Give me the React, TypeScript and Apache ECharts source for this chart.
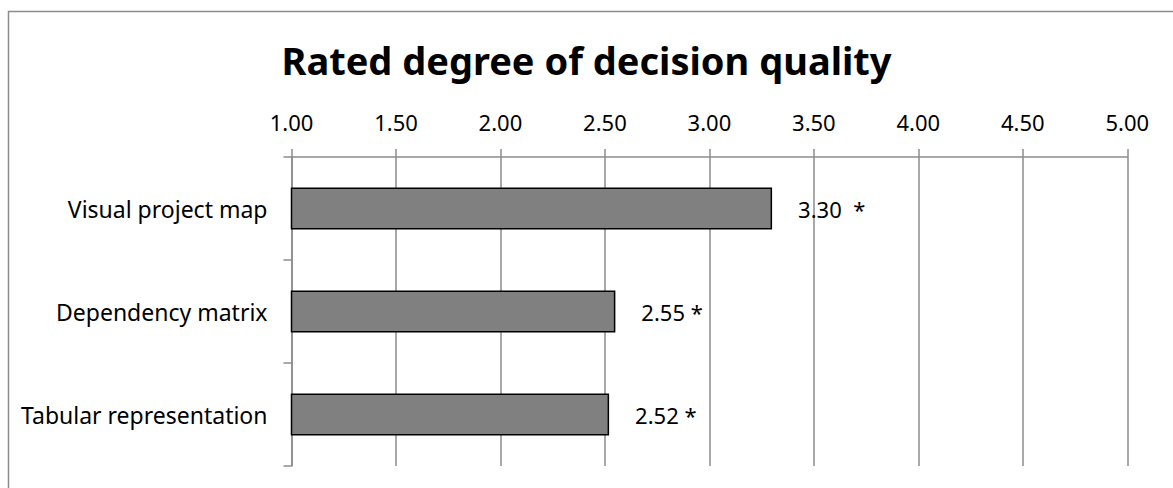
import React, { useEffect, useRef } from "react";
import * as echarts from "echarts";

const categories = ["Visual project map", "Dependency matrix", "Tabular representation"];
const values = [3.3, 2.55, 2.52];
const valueLabels = ["3.30  *", "2.55 *", "2.52 *"];
const tickMin = 1;
const tickMax = 5;
const tickStep = 0.5;
const titleText = "Rated degree of decision quality";

export default function App() {
  const ref = useRef<HTMLDivElement>(null);
  useEffect(() => {
    if (!ref.current) return;
    const chart = echarts.init(ref.current, null, { renderer: "svg" });
    const font = "'Noto Sans', sans-serif";
    chart.setOption({
      animation: false,
      backgroundColor: "#ffffff",
      textStyle: { fontFamily: font },
      title: {
        text: titleText,
        left: "center",
        top: 36,
        textStyle: { fontFamily: font, fontSize: 38, fontWeight: "bold", color: "#000" },
      },
      graphic: [
        {
          type: "rect",
          shape: { x: 8.5, y: 11.5, width: 1200, height: 500 },
          style: { fill: "none", stroke: "#8c8c8c", lineWidth: 1.5 },
          silent: true,
        },
      ],
      grid: { left: 291.5, right: 45.7, top: 157, bottom: 22 },
      xAxis: {
        type: "value",
        position: "top",
        min: tickMin,
        max: tickMax,
        interval: tickStep,
        axisLine: { show: true, lineStyle: { color: "#8c8c8c", width: 1.5 } },
        axisTick: { show: true, inside: false, length: 8, lineStyle: { color: "#8c8c8c", width: 1.5 } },
        axisLabel: {
          color: "#000",
          fontSize: 22,
          margin: 24,
          fontFamily: font,
          formatter: (v: number) => v.toFixed(2),
        },
        splitLine: { show: true, lineStyle: { color: "#8c8c8c", width: 1.5 } },
      },
      yAxis: {
        type: "category",
        inverse: true,
        data: categories,
        axisLine: { show: true, lineStyle: { color: "#8c8c8c", width: 1.5 } },
        axisTick: { show: true, alignWithLabel: false, length: 8, lineStyle: { color: "#8c8c8c", width: 1.5 } },
        axisLabel: { color: "#000", fontSize: 23, margin: 24, fontFamily: font },
        splitLine: { show: false },
      },
      series: [
        {
          type: "bar",
          barWidth: 42,
          data: values.map((v, i) => ({
            value: v,
            label: { formatter: valueLabels[i] },
          })),
          itemStyle: { color: "#808080", borderColor: "#000", borderWidth: 1.5 },
          label: {
            show: true,
            position: "right",
            distance: 26,
            color: "#000",
            fontSize: 22,
            fontFamily: font,
          },
        },
      ],
    });
    return () => chart.dispose();
  }, []);
  return (
    <div
      ref={ref}
      style={{ position: "fixed", left: 0, top: 0, width: 1173, height: 488 }}
    />
  );
}
